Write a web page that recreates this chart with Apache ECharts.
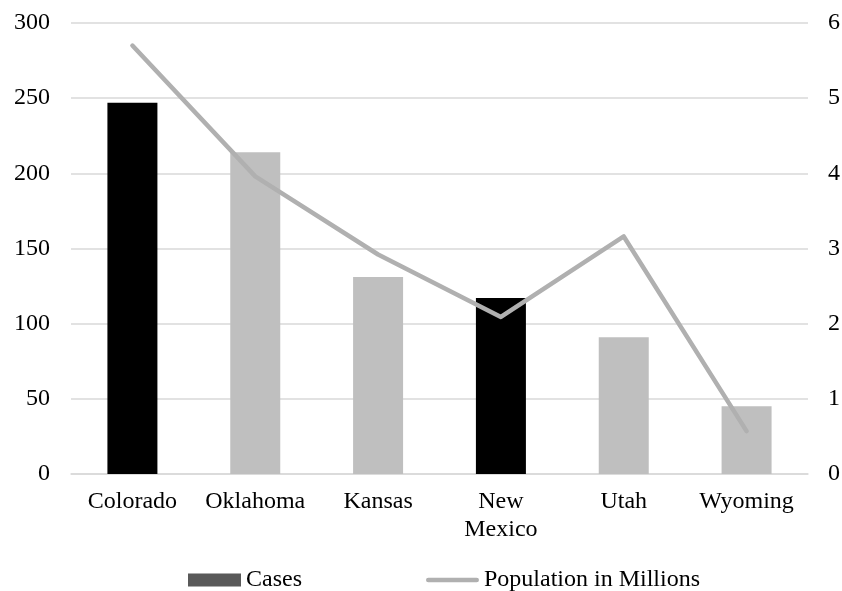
<!DOCTYPE html>
<html>
<head>
<meta charset="utf-8">
<script src="https://cdn.jsdelivr.net/npm/echarts@6/dist/echarts.min.js"></script>
<style>
  html, body { margin: 0; padding: 0; background: #fff; }
  #chart { width: 842px; height: 591px; }
</style>
</head>
<body>
<div id="chart"></div>
<script>
// States and values
const states = ['Colorado', 'Oklahoma', 'Kansas', 'New\nMexico', 'Utah', 'Wyoming'];
const cases = [247, 214, 131, 117, 91, 45];
const populationMillions = [5.70, 3.96, 2.92, 2.09, 3.16, 0.57];
const casesTicks = [0, 50, 100, 150, 200, 250, 300];
const populationTicks = [0, 1, 2, 3, 4, 5, 6];
const highlightedStates = ['Colorado', 'New\nMexico'];

const FONT = '"Liberation Serif", "Times New Roman", serif';
const labelStyle = { color: '#000', fontFamily: FONT, fontSize: 24 };
const LINE_GRAY = '#b0b0b0';
// rounded bar used as the legend key of the line series
const lineKey = 'path://M2.5,0 L53.5,0 A2.5,2.5 0 0 1 53.5,5 L2.5,5 A2.5,2.5 0 0 1 2.5,0 Z';

const chart = echarts.init(document.getElementById('chart'));
chart.setOption({
  animation: false,
  backgroundColor: '#fff',
  grid: { left: 71, right: 34, top: 23, bottom: 117, outerBoundsMode: 'none' },
  legend: {
    top: 563,
    left: 183,
    itemGap: 124,
    itemWidth: 53,
    itemHeight: 13,
    textStyle: { color: '#000', fontFamily: FONT, fontSize: 24 },
    data: [
      { name: 'Cases', icon: 'rect', itemStyle: { color: '#595959' } },
      { name: 'Population in Millions', icon: lineKey, itemStyle: { color: LINE_GRAY } }
    ]
  },
  xAxis: {
    type: 'category',
    data: states,
    axisTick: { show: false },
    axisLine: { show: true, lineStyle: { color: '#d9d9d9', width: 1.5 } },
    axisLabel: Object.assign({ margin: 14, lineHeight: 28, interval: 0 }, labelStyle)
  },
  yAxis: [
    {
      type: 'value',
      min: casesTicks[0],
      max: casesTicks[casesTicks.length - 1],
      interval: casesTicks[1] - casesTicks[0],
      axisLine: { show: false },
      axisTick: { show: false },
      splitLine: { lineStyle: { color: '#d9d9d9', width: 1.5 } },
      axisLabel: Object.assign({ margin: 21 }, labelStyle)
    },
    {
      type: 'value',
      position: 'right',
      min: populationTicks[0],
      max: populationTicks[populationTicks.length - 1],
      interval: populationTicks[1] - populationTicks[0],
      axisLine: { show: false },
      axisTick: { show: false },
      splitLine: { show: false },
      axisLabel: Object.assign({ margin: 20 }, labelStyle)
    }
  ],
  series: [
    {
      name: 'Cases',
      type: 'bar',
      yAxisIndex: 0,
      barWidth: 50,
      data: cases,
      itemStyle: {
        color: function (p) {
          return highlightedStates.indexOf(p.name) >= 0 ? '#000000' : '#bfbfbf';
        }
      }
    },
    {
      name: 'Population in Millions',
      type: 'line',
      yAxisIndex: 1,
      data: populationMillions,
      symbol: 'none',
      lineStyle: { color: LINE_GRAY, width: 4.5, cap: 'round', join: 'round' },
      itemStyle: { color: LINE_GRAY },
      z: 3
    }
  ]
});
</script>
</body>
</html>
